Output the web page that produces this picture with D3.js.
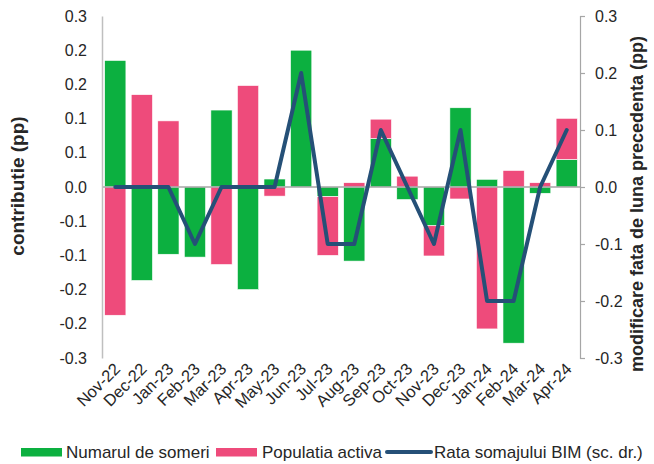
<!DOCTYPE html>
<html>
<head>
<meta charset="utf-8">
<script src="https://cdn.jsdelivr.net/npm/d3@7"></script>
<style>
  html, body { margin: 0; padding: 0; background: #fff; }
  svg { display: block; font-family: "Liberation Sans", Arial, sans-serif; }
</style>
</head>
<body>
<svg id="chart" width="654" height="464"></svg>
<script>
const categories = ["Nov-22","Dec-22","Jan-23","Feb-23","Mar-23","Apr-23","May-23","Jun-23","Jul-23","Aug-23","Sep-23","Oct-23","Nov-23","Dec-23","Jan-24","Feb-24","Mar-24","Apr-24"];
const someri    = [0.222, -0.164, -0.118, -0.123, 0.135, -0.180, 0.014, 0.240, -0.017, -0.130, 0.085, -0.022, -0.068, 0.139, 0.0135, -0.274, -0.011, 0.0485];
const populatia = [-0.225, 0.162, 0.116, 0.000, -0.136, 0.178, -0.016, 0.000, -0.103, 0.0075, 0.034, 0.019, -0.053, -0.021, -0.249, 0.029, 0.0075, 0.072];
const rata      = [0, 0, 0, -0.1, 0, 0, 0, 0.2, -0.1, -0.1, 0.1, 0, -0.1, 0.1, -0.2, -0.2, 0, 0.1];
const leftTicks  = [-0.30, -0.24, -0.18, -0.12, -0.06, 0, 0.06, 0.12, 0.18, 0.24, 0.30];
const rightTicks = [-0.3, -0.2, -0.1, 0, 0.1, 0.2, 0.3];
const seriesNames = ["Numarul de someri", "Populatia activa", "Rata somajului BIM (sc. dr.)"];

const colors = { green: "#0cb040", pink: "#ee4b7b", line: "#255077", text: "#262626" };

const svg = d3.select("#chart");
const x0 = 102, x1 = 580, yTop = 16, yBot = 358;

const x = d3.scaleBand().domain(categories).range([x0, x1]).paddingInner(0.2).paddingOuter(0.1);
const yL = d3.scaleLinear().domain([-0.3, 0.3]).range([yBot, yTop]);
const yR = d3.scaleLinear().domain([-0.3, 0.3]).range([yBot, yTop]);

const fmt = v => { const s = (Math.round(v * 10) / 10).toFixed(1); return s === "-0.0" ? "0.0" : s; };

// stacked data
const table = categories.map((c, i) => ({ cat: c, someri: someri[i], populatia: populatia[i] }));
const stack = d3.stack().keys(["someri", "populatia"]).offset(d3.stackOffsetDiverging);
const stacked = stack(table);
const fill = { someri: colors.green, populatia: colors.pink };

svg.append("g").selectAll("g").data(stacked).join("g")
  .attr("fill", d => fill[d.key])
  .selectAll("rect").data(d => d).join("rect")
  .attr("x", d => x(d.data.cat))
  .attr("width", x.bandwidth())
  .attr("y", d => yL(Math.max(d[0], d[1])))
  .attr("height", d => Math.abs(yL(d[0]) - yL(d[1])))
  .attr("stroke", "#ffffff")
  .attr("stroke-width", 0.6);

// zero line
svg.append("line")
  .attr("x1", x0).attr("x2", x1)
  .attr("y1", yL(0)).attr("y2", yL(0))
  .attr("stroke", "#a6a6a6").attr("stroke-width", 1.5);

// left axis
const gL = svg.append("g").attr("transform", `translate(${x0},0)`)
  .call(d3.axisLeft(yL).tickValues(leftTicks).tickFormat(fmt).tickSize(0).tickPadding(15));
gL.select(".domain").attr("stroke", "#bfbfbf").attr("stroke-width", 1.5);
gL.selectAll("text").attr("font-size", 16).attr("fill", colors.text).attr("font-family", "Liberation Sans, Arial, sans-serif");

// right axis
const gR = svg.append("g").attr("transform", `translate(${x1},0)`)
  .call(d3.axisRight(yR).tickValues(rightTicks).tickFormat(fmt).tickSizeOuter(5).tickSizeInner(5).tickPadding(10));
gR.select(".domain").attr("stroke", "#a6a6a6").attr("stroke-width", 1.2);
gR.selectAll(".tick line").attr("stroke", "#a6a6a6").attr("stroke-width", 1.2);
gR.selectAll("text").attr("font-size", 16).attr("fill", colors.text).attr("font-family", "Liberation Sans, Arial, sans-serif");

// line
const line = d3.line()
  .x((d, i) => x(categories[i]) + x.bandwidth() / 2)
  .y(d => yR(d));
svg.append("path").datum(rata)
  .attr("d", line)
  .attr("fill", "none")
  .attr("stroke", colors.line)
  .attr("stroke-width", 4)
  .attr("stroke-linejoin", "round")
  .attr("stroke-linecap", "round");

// x labels
svg.append("g").selectAll("text").data(categories).join("text")
  .attr("transform", d => `translate(${x(d) + x.bandwidth() / 2 + 6},${yBot + 12}) rotate(-45)`)
  .attr("text-anchor", "end")
  .attr("font-size", 16.5)
  .attr("fill", colors.text)
  .text(d => d);

// axis titles
svg.append("text")
  .attr("transform", `translate(24,186) rotate(-90)`)
  .attr("text-anchor", "middle")
  .attr("font-size", 19).attr("font-weight", "bold").attr("fill", colors.text)
  .text("contributie (pp)");
svg.append("text")
  .attr("transform", `translate(643,204) rotate(-90)`)
  .attr("text-anchor", "middle")
  .attr("font-size", 18).attr("font-weight", "bold").attr("fill", colors.text)
  .text("modificare fata de luna precedenta (pp)");

// legend
const lg = svg.append("g").attr("font-size", 17).attr("fill", colors.text);
lg.append("rect").attr("x", 21).attr("y", 448).attr("width", 41).attr("height", 8.5).attr("fill", colors.green);
lg.append("text").attr("x", 66).attr("y", 458).text(seriesNames[0]);
lg.append("rect").attr("x", 216).attr("y", 448).attr("width", 41).attr("height", 8.5).attr("fill", colors.pink);
lg.append("text").attr("x", 262).attr("y", 458).text(seriesNames[1]);
lg.append("line").attr("x1", 387).attr("x2", 431).attr("y1", 452).attr("y2", 452)
  .attr("stroke", colors.line).attr("stroke-width", 4).attr("stroke-linecap", "round");
lg.append("text").attr("x", 434).attr("y", 458).text(seriesNames[2]);
</script>
</body>
</html>
